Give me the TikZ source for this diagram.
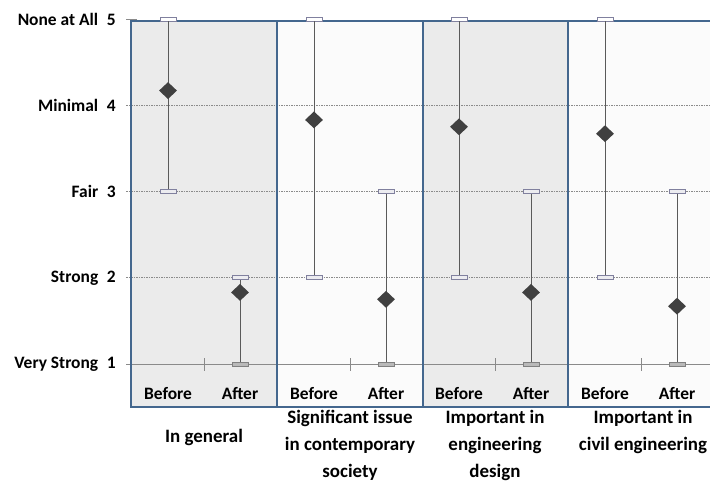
\documentclass[tikz,border=0pt]{standalone}
\usepackage{fontspec}
\setmainfont{Carlito}
\usetikzlibrary{shapes.geometric,positioning}
\definecolor{frameblue}{HTML}{44678E}
\definecolor{panelgray}{HTML}{EBEBEB}
\definecolor{panelwhite}{HTML}{FBFBFB}
\definecolor{gridgray}{HTML}{8A8A8A}
\definecolor{barline}{HTML}{5A5A5A}
\definecolor{capedge}{HTML}{80809E}
\definecolor{markgray}{HTML}{404040}
\tikzset{
  panelframe/.style={draw=frameblue, line width=2.4bp},
  gridline/.style={gridgray, line width=0.6bp, dash pattern=on 1.5bp off 1bp},
  axisline/.style={gridgray, line width=0.8bp},
  errbar/.style={barline, line width=0.8bp},
  capbox/.style={rectangle, draw=capedge, fill=white!85!capedge, line width=0.6bp,
    inner sep=0pt, minimum width=16bp, minimum height=4bp},
  meanmark/.style={diamond, fill=markgray, inner sep=0pt, minimum width=18bp, minimum height=17bp},
  levellabel/.style={anchor=east, font=\fontsize{17.5}{19}\selectfont\bfseries, inner sep=0pt},
  phaselabel/.style={font=\fontsize{17.5}{20}\selectfont\bfseries, inner sep=0pt},
  grouplabel/.style={align=center, font=\fontsize{19}{27}\selectfont\bfseries, inner sep=0pt, anchor=north}
}
\begin{document}
\begin{tikzpicture}[x=1bp, y=-1bp]
    \clip (0,0) rectangle (710,484);
    % Panels
    \fill[panelgray] (131,21) rectangle (277,407);
    \fill[panelwhite] (277,21) rectangle (423,407);
    \fill[panelgray] (423,21) rectangle (568,407);
    \fill[panelwhite] (568,21) rectangle (716,407);
    % Grid and axis
    \foreach \v in {2,3,4}
        \draw[gridline] (126,{450.25-86.25*\v}) -- (710,{450.25-86.25*\v});
    \draw[axisline] (126,364) -- (710,364);
    \draw[axisline] (126,19) -- (137,19);
    \foreach \c in {204,350,495,641}
        \draw[axisline] (\c,358) -- (\c,371);
    % Frames
    \draw[panelframe] (131,21) rectangle (277,407);
    \draw[panelframe] (277,21) rectangle (423,407);
    \draw[panelframe] (423,21) rectangle (568,407);
    \draw[panelframe] (568,21) rectangle (716,407);
    % Level labels
    \node[levellabel] (lev5) at (116,19) {None at All\enspace5};
    \node[levellabel] (lev4) at (116,105) {Minimal\enspace4};
    \node[levellabel] (lev3) at (116,191) {Fair\enspace3};
    \node[levellabel] (lev2) at (116,278) {Strong\enspace2};
    \node[levellabel] (lev1) at (116,364) {Very Strong\enspace1};
    % Error bars and means
    \foreach \n/\c/\bl/\bh/\bm/\al/\ah/\am in
        {1/204/3/5/4.17/1/2/1.83, 2/350/2/5/3.83/1/3/1.75,
         3/495/2/5/3.75/1/3/1.83, 4/641/2/5/3.67/1/3/1.67} {
        \node[capbox, fill=white] (before\n hi) at (\c-36,{450.25-86.25*\bh}) {};
        \node[capbox] (before\n lo) at (\c-36,{450.25-86.25*\bl}) {};
        \draw[errbar] (before\n hi) -- (before\n lo);
        \node[meanmark] (before\n mean) at (\c-36,{450.25-86.25*\bm}) {};
        \node[capbox] (after\n hi) at (\c+36,{450.25-86.25*\ah}) {};
        \node[capbox, draw=gray, fill=gray!55] (after\n lo) at (\c+36,{450.25-86.25*\al}) {};
        \draw[errbar] (after\n hi) -- (after\n lo);
        \node[meanmark] (after\n mean) at (\c+36,{450.25-86.25*\am}) {};
        \node[phaselabel] (before\n txt) at (\c-36,394) {Before};
        \node[phaselabel] (after\n txt) at (\c+36,394) {After};
    }
    % Group labels
    \node[grouplabel] (group1) at (204,429) {In general};
    \node[grouplabel] (group2) at (350,410) {Significant issue\\in contemporary\\society};
    \node[grouplabel] (group3) at (495,410) {Important in\\engineering\\design};
    \node[grouplabel] (group4) at (643,410) {Important in\\civil engineering};
\end{tikzpicture}
\end{document}
